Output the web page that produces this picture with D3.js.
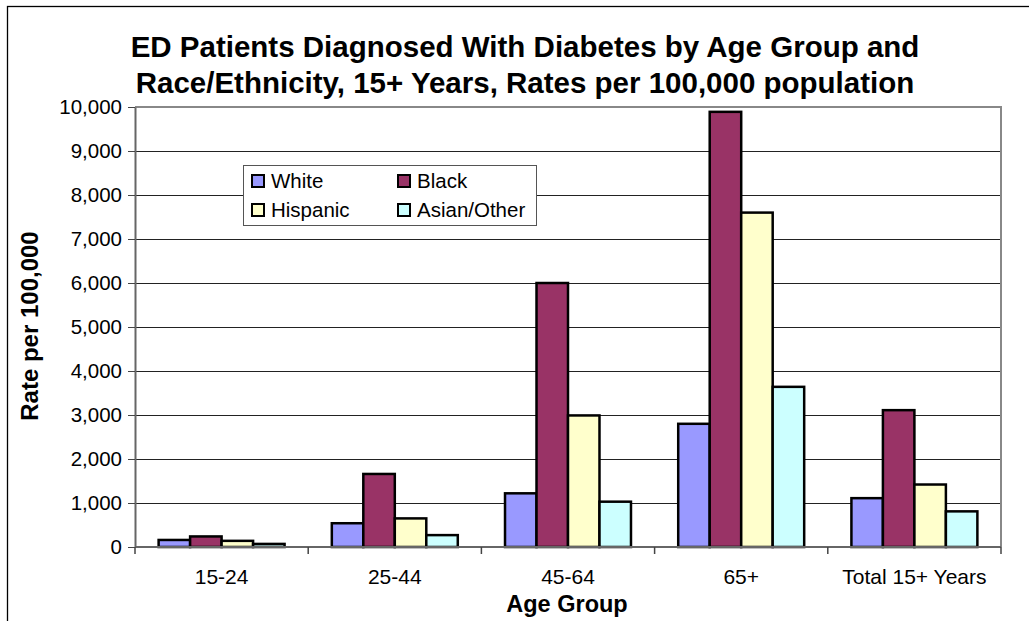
<!DOCTYPE html>
<html><head><meta charset="utf-8">
<script src="https://cdn.jsdelivr.net/npm/d3@7"></script>
<style>
html,body{margin:0;padding:0;background:#fff;}
svg text{font-family:"Liberation Sans",Arial,sans-serif;fill:#000;}
</style></head>
<body><svg id="chart" width="1029" height="621"></svg>
<script>
const categories = ["15-24","25-44","45-64","65+","Total 15+ Years"];
const seriesNames = ["White","Black","Hispanic","Asian/Other"];
const seriesColors = ["#9999FF","#993366","#FFFFCC","#CCFFFF"];
const white    = [160, 540, 1220, 2800, 1110];
const black    = [240, 1660, 6000, 9890, 3110];
const hispanic = [140, 650, 2990, 7600, 1420];
const asian    = [70, 270, 1030, 3640, 810];
const yTicks = [0,1000,2000,3000,4000,5000,6000,7000,8000,9000,10000];
const titleLines = ["ED Patients Diagnosed With Diabetes by Age Group and","Race/Ethnicity, 15+ Years, Rates per 100,000 population"];
const xTitle = "Age Group";
const yTitle = "Rate per 100,000";

const seriesValues = [white, black, hispanic, asian];
const svg = d3.select("#chart");
const L = 135, R = 1001, T = 107, B = 547;

svg.append("rect").attr("x",0).attr("y",0).attr("width",1029).attr("height",621).attr("fill","#fff");
// outer chart border
svg.append("rect").attr("x",7.5).attr("y",6.5).attr("width",1200).attr("height",800)
  .attr("fill","none").attr("stroke","#000").attr("stroke-width",1.3);

const x = d3.scaleBand().domain(categories).range([L,R]).paddingInner(0.2727).paddingOuter(0.13636);
const xs = d3.scaleBand().domain(seriesNames).range([0,x.bandwidth()]).padding(0);
const y = d3.scaleLinear().domain([0,10000]).range([B,T]);

// gridlines
svg.append("g").selectAll("line").data(yTicks.filter(d=>d>0 && d<10000)).join("line")
  .attr("x1",L).attr("x2",R).attr("y1",d=>Math.round(y(d))+0.5).attr("y2",d=>Math.round(y(d))+0.5)
  .attr("stroke","#222").attr("stroke-width",1);

// plot border top/right
svg.append("path").attr("d",`M${L},${T}H${R}V${B}`).attr("fill","none").attr("stroke","#888").attr("stroke-width",2);

// bars
const groups = svg.append("g").selectAll("g").data(categories).join("g")
  .attr("transform",d=>`translate(${x(d)},0)`);
groups.selectAll("rect").data((c,i)=>seriesNames.map((s,j)=>({s,j,v:seriesValues[j][i]}))).join("rect")
  .attr("x",d=>xs(d.s)).attr("width",xs.bandwidth())
  .attr("y",d=>y(d.v)).attr("height",d=>B-y(d.v))
  .attr("fill",d=>seriesColors[d.j]).attr("stroke","#000").attr("stroke-width",2.5);

// y axis
const yAxis = d3.axisLeft(y).tickValues(yTicks).tickSize(7).tickSizeOuter(0).tickPadding(6).tickFormat(d3.format(","));
const gy = svg.append("g").attr("transform",`translate(${L},0)`).call(yAxis);
gy.select(".domain").attr("stroke","#666").attr("stroke-width",2);
gy.selectAll(".tick line").attr("stroke","#444").attr("stroke-width",1);
gy.selectAll("text").attr("font-size","20.5px").attr("font-family","Liberation Sans, Arial, sans-serif").attr("fill","#000");

// x axis
const xAxis = d3.axisBottom(x).tickSize(0).tickPadding(0);
const gx = svg.append("g").attr("transform",`translate(0,${B})`).call(xAxis);
gx.select(".domain").attr("stroke","#666").attr("stroke-width",2).attr("d",`M${L},0H${R}`);
gx.selectAll("text").attr("font-size","21px").attr("font-family","Liberation Sans, Arial, sans-serif").attr("fill","#000").attr("y",37).attr("dy",0);
// category boundary ticks
const bounds = categories.map(c=>x(c)-x.step()*x.paddingInner()/2).concat([R]);
gx.append("g").selectAll("line").data(bounds).join("line")
  .attr("x1",d=>d).attr("x2",d=>d).attr("y1",0).attr("y2",7).attr("stroke","#444").attr("stroke-width",1.5);

// title
svg.append("g").selectAll("text").data(titleLines).join("text")
  .attr("x",525).attr("y",(d,i)=>57+i*36).attr("text-anchor","middle")
  .attr("font-size","29.5px").attr("font-weight","bold").text(d=>d);

// axis titles
svg.append("text").attr("x",567).attr("y",612).attr("text-anchor","middle")
  .attr("font-size","23.5px").attr("font-weight","bold").text(xTitle);
svg.append("text").attr("transform","translate(38,326) rotate(-90)").attr("text-anchor","middle")
  .attr("font-size","24px").attr("font-weight","bold").text(yTitle);

// legend
const lg = svg.append("g");
lg.append("rect").attr("x",243.5).attr("y",165.5).attr("width",293).attr("height",60)
  .attr("fill","#fff").attr("stroke","#555").attr("stroke-width",1);
const leg = lg.selectAll("g").data(seriesNames).join("g")
  .attr("transform",(d,i)=>`translate(${252 + (i%2)*146},${175 + Math.floor(i/2)*29})`);
leg.append("rect").attr("x",0).attr("y",0).attr("width",12).attr("height",12)
  .attr("fill",(d,i)=>seriesColors[i]).attr("stroke","#000").attr("stroke-width",2);
leg.append("text").attr("x",19).attr("y",13).attr("font-size","20.5px").text(d=>d);
</script></body></html>
